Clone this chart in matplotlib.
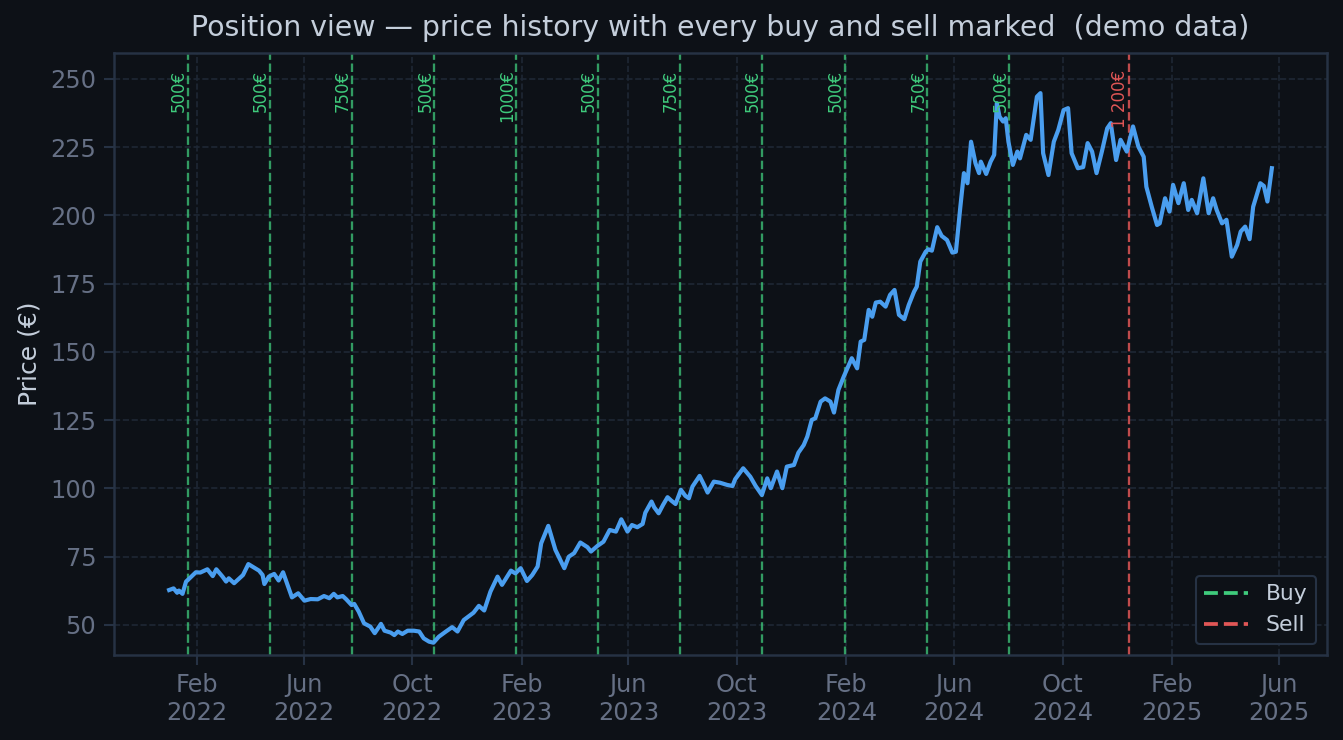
import numpy as np
import pandas as pd
import matplotlib
matplotlib.use("Agg")
import matplotlib.pyplot as plt
import matplotlib.dates as mdates
from matplotlib.lines import Line2D

# price history (days since 2022-01-01, price in EUR)
day_offsets = [0, 5, 9, 11, 15, 19, 23, 30, 35, 43, 49, 53, 60, 64, 67, 73, 79, 83, 89, 95,
               101, 105, 107, 112, 118, 123, 128, 133, 138, 145, 152, 159, 167, 174, 180, 185,
               189, 195, 199, 205, 208, 213, 219, 226, 231, 238, 242, 249, 253, 257, 262, 268,
               275, 281, 286, 292, 297, 303, 311, 318, 324, 331, 342, 348, 354, 361, 369, 374,
               384, 389, 395, 402, 408, 414, 418, 426, 434, 444, 449, 455, 462, 470, 474, 481,
               488, 495, 502, 508, 515, 520, 526, 532, 535, 542, 545, 550, 555, 560, 564, 569,
               575, 580, 584, 588, 596, 601, 605, 612, 619, 627, 633, 636, 645, 653, 659, 666,
               672, 676, 683, 689, 694, 702, 707, 713, 717, 722, 726, 732, 737, 743, 747, 752,
               758, 767, 773, 777, 781, 786, 790, 794, 799, 805, 810, 815, 820, 826, 831, 837,
               840, 844, 850, 853, 857, 863, 868, 874, 880, 884, 889, 893, 897, 901, 906, 910,
               912, 918, 923, 927, 930, 933, 937, 940, 943, 948, 953, 956, 963, 968, 975, 979,
               982, 988, 994, 999, 1005, 1010, 1014, 1021, 1027, 1032, 1037, 1042, 1048, 1054,
               1058, 1064, 1069, 1076, 1083, 1089, 1095, 1098, 1104, 1110, 1113, 1119, 1124,
               1128, 1134, 1140, 1145, 1149, 1155, 1162, 1168, 1173, 1177, 1183, 1188, 1194,
               1200, 1204, 1209, 1214, 1218, 1226, 1230, 1234, 1239]
prices = [62.8, 63.4, 61.8, 62.6, 61.4, 65.9, 67.1, 69.3, 69.2, 70.4, 67.9, 70.4, 67.7, 65.9,
          67.1, 65.3, 67.1, 68.3, 72.3, 71.1, 69.9, 68.3, 65.0, 67.7, 68.7, 66.3, 69.3, 64.7,
          60.1, 61.6, 58.9, 59.5, 59.4, 60.6, 59.8, 61.4, 60.1, 60.6, 59.4, 57.3, 57.7, 54.9,
          50.6, 49.4, 47.0, 50.4, 47.9, 47.2, 46.3, 47.6, 46.7, 47.9, 47.9, 47.6, 45.1, 43.9,
          43.5, 45.7, 47.6, 49.2, 47.6, 51.8, 54.5, 57.0, 55.3, 62.2, 67.7, 64.7, 69.9, 68.9,
          70.8, 66.1, 68.3, 71.4, 79.9, 86.3, 77.5, 70.8, 75.0, 76.3, 80.2, 78.5, 76.9, 78.9,
          80.5, 84.8, 84.2, 88.7, 84.2, 86.6, 85.8, 87.0, 91.1, 95.2, 93.1, 90.9, 94.0, 96.8,
          95.6, 94.3, 99.5, 97.3, 96.4, 100.7, 104.6, 101.3, 98.5, 102.5, 102.1, 101.3, 100.9,
          103.4, 107.4, 104.3, 100.9, 97.6, 103.7, 100.1, 106.2, 100.1, 108.0, 108.6, 113.1,
          115.9, 119.0, 125.1, 125.7, 131.8, 133.0, 131.8, 127.8, 136.1, 141.0, 147.7, 144.0,
          153.8, 154.4, 165.4, 162.9, 168.1, 168.4, 166.6, 170.9, 172.7, 163.6, 162.0, 167.2,
          172.1, 173.9, 183.1, 186.7, 187.6, 187.1, 195.7, 192.5, 191.0, 186.4, 186.7, 203.2,
          215.5, 211.8, 227.0, 219.1, 215.5, 219.7, 215.2, 219.7, 222.2, 241.1, 236.2, 234.4,
          235.6, 227.0, 218.5, 223.4, 220.9, 229.5, 227.7, 243.5, 244.8, 222.8, 214.8, 227.0,
          231.3, 238.6, 239.3, 222.8, 217.3, 217.7, 226.5, 223.4, 215.5, 223.4, 231.9, 233.8,
          220.3, 227.7, 223.4, 232.6, 225.2, 221.5, 210.5, 203.2, 196.5, 197.1, 206.3, 201.4,
          211.2, 204.5, 211.8, 202.0, 205.7, 200.8, 213.6, 200.8, 206.3, 202.0, 197.1, 198.4,
          184.9, 189.2, 194.1, 195.9, 191.3, 203.2, 211.8, 210.8, 205.1, 217.3]

buy_dates = ["2022-01-22", "2022-04-24", "2022-07-25", "2022-10-26", "2023-01-26",
             "2023-04-28", "2023-07-29", "2023-10-29", "2024-01-30", "2024-05-02",
             "2024-08-02"]
buy_amounts = [500, 500, 750, 500, 1000, 500, 750, 500, 500, 750, 500]
sell_dates = ["2024-12-15"]
sell_labels = ["1 200€"]

BG = "#0d1117"
LINE = "#4a9eef"
BUY = "#3fcb7c"
SELL = "#e05656"
MUTED = "#667085"
LIGHT = "#c4cedb"

dates = pd.Timestamp("2022-01-01") + pd.to_timedelta(day_offsets, unit="D")

fig = plt.figure(figsize=(1343 / 150, 740 / 150), dpi=150, facecolor=BG)
ax = fig.add_axes([114 / 1343, 1 - 655 / 740, (1327 - 114) / 1343, (655 - 53) / 740])
ax.set_facecolor(BG)

ax.plot(dates, prices, color=LINE, lw=2.0, zorder=3)

for d, amt in zip(buy_dates, buy_amounts):
    d = pd.Timestamp(d)
    ax.axvline(d, color=BUY, ls="--", lw=1.1, alpha=0.75, zorder=2)
    ax.text(d, 253.5, f"{amt}€", rotation=90, ha="right", va="top",
            color=BUY, fontsize=8, zorder=4)
for d, lab in zip(sell_dates, sell_labels):
    d = pd.Timestamp(d)
    ax.axvline(d, color=SELL, ls="--", lw=1.1, alpha=0.85, zorder=2)
    ax.text(d, 253.5, lab, rotation=90, ha="right", va="top",
            color=SELL, fontsize=8, zorder=4)

ax.set_ylim(39, 259.5)
ax.set_yticks(np.arange(50, 251, 25))
ax.xaxis.set_major_locator(mdates.MonthLocator(bymonth=[2, 6, 10]))
ax.xaxis.set_major_formatter(mdates.DateFormatter("%b\n%Y"))

ax.grid(True, color="#1e2735", ls="--", lw=0.8)
ax.set_axisbelow(True)
for s in ax.spines.values():
    s.set_color("#263244")
    s.set_linewidth(1.2)
ax.tick_params(colors="#263244", labelcolor=MUTED, labelsize=11.5, length=5, width=1)

ax.set_ylabel("Price (€)", color=LIGHT, fontsize=12)
ax.set_title("Position view — price history with every buy and sell marked  (demo data)",
             color=LIGHT, fontsize=13.6, pad=8)

handles = [Line2D([], [], color=BUY, ls="--", lw=1.8, label="Buy"),
           Line2D([], [], color=SELL, ls="--", lw=1.8, label="Sell")]
leg = ax.legend(handles=handles, loc="lower right", facecolor=BG, edgecolor="#263244",
                fontsize=10.5, labelcolor=LIGHT, framealpha=1)

fig.savefig("out.png", dpi=150, facecolor=BG)
